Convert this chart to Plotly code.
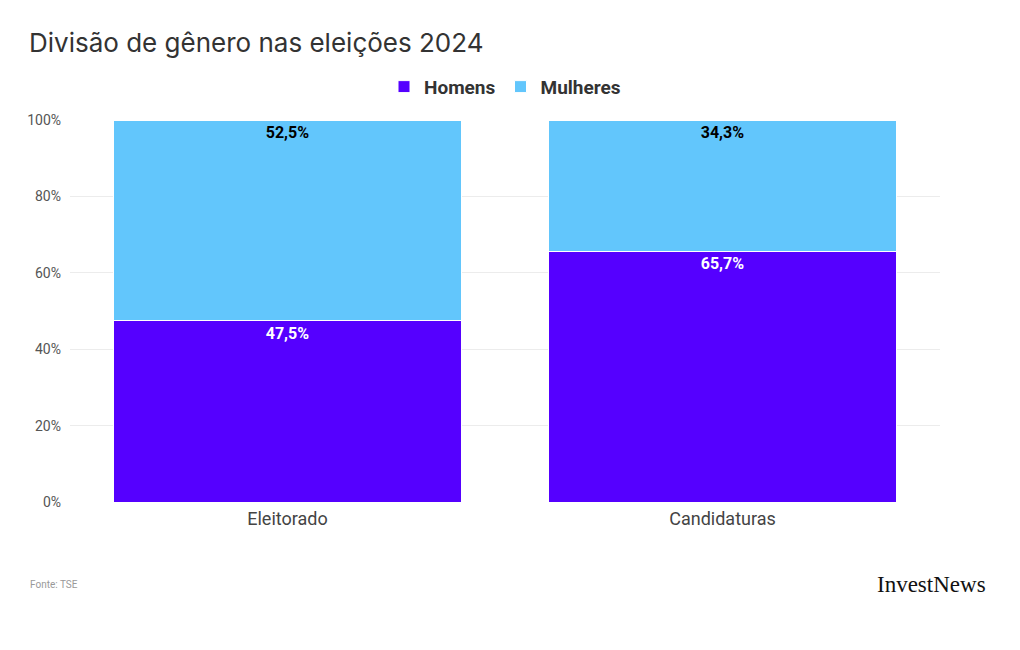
import plotly.graph_objects as go

categories = ["Eleitorado", "Candidaturas"]
homens = [47.5, 65.7]
mulheres = [52.5, 34.3]
series_names = ["Homens", "Mulheres"]
colors = ["#5500ff", "#62c6fc"]
tick_vals = [0, 20, 40, 60, 80, 100]
tick_text = ["0%", "20%", "40%", "60%", "80%", "100%"]

fig = go.Figure()
fig.add_trace(go.Bar(
    x=categories, y=homens, name=series_names[0],
    marker=dict(color=colors[0], line=dict(color="white", width=1)),
    texttemplate="%{y:.1f}%", textposition="inside", insidetextanchor="end",
    textfont=dict(color="white", size=16, family="Roboto", weight="bold"),
    textangle=0,
))
fig.add_trace(go.Bar(
    x=categories, y=mulheres, name=series_names[1],
    marker=dict(color=colors[1], line=dict(color="white", width=1)),
    texttemplate="%{y:.1f}%", textposition="inside", insidetextanchor="end",
    textfont=dict(color="black", size=16, family="Roboto", weight="bold"),
    textangle=0,
))

fig.update_layout(
    barmode="stack",
    bargap=0.2,
    separators=",.",
    width=1020, height=650,
    paper_bgcolor="white", plot_bgcolor="white",
    margin=dict(l=62, r=88, t=112, b=156),
    title=dict(text="Divisão de gênero nas eleições 2024", x=0.0206, xanchor="left",
               y=0.946, yanchor="middle",
               font=dict(family="Inter, Roboto, sans-serif", size=26, color="#333333")),
    legend=dict(orientation="h", x=0.5, xanchor="center", y=1.087, yanchor="middle",
                font=dict(family="Roboto", size=19, color="#333333", weight="bold"),
                itemwidth=30, tracegroupgap=0, traceorder="normal"),
    yaxis=dict(range=[0, 100], tickvals=tick_vals, ticktext=tick_text,
               gridcolor="#ececec", gridwidth=1, zeroline=False,
               tickfont=dict(family="Roboto", size=14, color="#555555"),
               ticks="", ticklabelstandoff=8, fixedrange=True),
    xaxis=dict(tickfont=dict(family="Roboto", size=18, color="#444444"),
               showgrid=False, showline=False, ticks="", ticklabelstandoff=4),
    showlegend=True,
)

fig.add_annotation(text="Fonte: TSE", xref="paper", yref="paper",
                   x=-0.0483, y=-0.217, xanchor="left", yanchor="middle",
                   showarrow=False, font=dict(family="Roboto", size=10, color="#999999"))
fig.add_annotation(text="InvestNews", xref="paper", yref="paper",
                   x=1.0552, y=-0.215, xanchor="right", yanchor="middle",
                   showarrow=False,
                   font=dict(family="Liberation Serif", size=23, color="#111111"))

fig.write_html("out.html")
